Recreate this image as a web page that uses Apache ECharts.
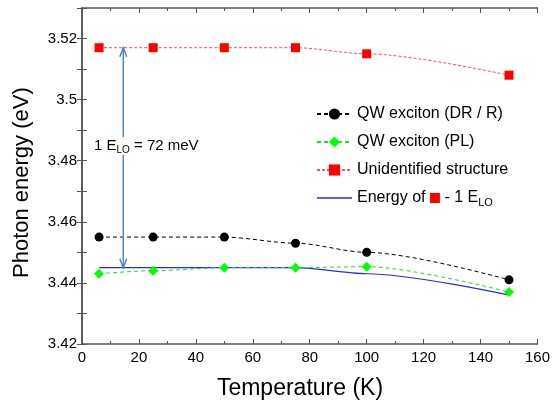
<!DOCTYPE html>
<html>
<head>
<meta charset="utf-8">
<script src="https://cdn.jsdelivr.net/npm/echarts@6/dist/echarts.min.js"></script>
<style>
  html, body { margin: 0; padding: 0; background: #fff; }
  #chart { width: 553px; height: 405px; }
</style>
</head>
<body>
<div id="chart"></div>
<script>
// Temperatures (K) at which the spectra were taken
const temperatures = [6, 25, 50, 75, 100, 150];

// Peak energies (eV)
const qwExcitonDR = [3.455, 3.455, 3.455, 3.453, 3.450, 3.441];
const qwExcitonPL = [3.443, 3.444, 3.445, 3.445, 3.4453, 3.437];
const unidentified = [3.517, 3.517, 3.517, 3.517, 3.515, 3.508];
const unidentifiedMinusLO = [3.445, 3.445, 3.445, 3.445, 3.443, 3.436];

// LO-phonon spacing annotation: temperature of the arrow, its two ends (eV), label anchor
const loArrowT = [14.5];
const loArrowEnds = [3.517, 3.445];
const loLabelAt = [4.2, 3.4848];

const seriesNames = [
  'QW exciton (DR / R)',
  'QW exciton (PL)',
  'Unidentified structure',
  'Energy of - 1 ELO'
];

const FONT = 'Liberation Sans, Arial, sans-serif';
const AXIS_COLOR = '#555';

function pairs(xs, ys) {
  return xs.map((x, i) => [x, ys[i]]);
}

function yLabel(v) {
  const c = Math.round(v * 100);
  if (c % 2 !== 0) return '';
  return String(Number((c / 100).toFixed(2)));
}

const chart = echarts.init(document.getElementById('chart'), null, { renderer: 'canvas' });

const commonAxisLine = { show: true, lineStyle: { color: AXIS_COLOR, width: 1.5 } };

const option = {
  animation: false,
  backgroundColor: '#fff',
  textStyle: { fontFamily: FONT },
  grid: { left: 82, right: 13, top: 8, bottom: 61, containLabel: false },
  xAxis: [
    {
      type: 'value', min: 0, max: 160, interval: 20,
      axisLine: commonAxisLine,
      axisTick: { show: true, inside: true, length: 5, lineStyle: { color: AXIS_COLOR } },
      minorTick: { show: true, splitNumber: 2, length: 3, lineStyle: { color: AXIS_COLOR } },
      axisLabel: { color: '#000', fontSize: 15, fontFamily: FONT, margin: 6 },
      splitLine: { show: false }
    },
    {
      type: 'value', position: 'top', min: 0, max: 160, interval: 20,
      axisLine: commonAxisLine,
      axisTick: { show: true, inside: true, length: 5, lineStyle: { color: AXIS_COLOR } },
      minorTick: { show: true, splitNumber: 2, length: 3, lineStyle: { color: AXIS_COLOR } },
      axisLabel: { show: false },
      splitLine: { show: false }
    }
  ],
  yAxis: [
    {
      type: 'value', min: 3.42, max: 3.53, interval: 0.01,
      axisLine: commonAxisLine,
      axisTick: { show: true, inside: true, length: 5, lineStyle: { color: AXIS_COLOR } },
      axisLabel: { color: '#000', fontSize: 15, fontFamily: FONT, margin: 5, formatter: yLabel },
      splitLine: { show: false }
    },
    {
      type: 'value', position: 'right', min: 3.42, max: 3.53, interval: 0.01,
      axisLine: commonAxisLine,
      axisTick: { show: true, inside: true, length: 5, lineStyle: { color: AXIS_COLOR } },
      axisLabel: { show: false },
      splitLine: { show: false }
    }
  ],
  legend: {
    orient: 'vertical',
    left: 311, top: 99,
    itemWidth: 35, itemHeight: 14, itemGap: 8,
    textStyle: {
      fontFamily: FONT, fontSize: 16, color: '#000', lineHeight: 20,
      rich: {
        t: { fontFamily: FONT, fontSize: 16, color: '#000', lineHeight: 20 },
        sq: { width: 10, height: 10, backgroundColor: '#ff0000', lineHeight: 20 },
        s: { fontFamily: FONT, fontSize: 11, color: '#000', lineHeight: 20, padding: [9, 0, 0, 0] }
      }
    },
    formatter: function (name) {
      if (name === seriesNames[3]) return '{t|Energy of }{sq|}{t| - 1 E}{s|LO}';
      return name;
    },
    data: [
      { name: seriesNames[0] },
      { name: seriesNames[1] },
      { name: seriesNames[2] },
      { name: seriesNames[3], icon: 'path://M0,0 L35,0 L35,1.4 L0,1.4 Z' }
    ]
  },
  graphic: [
    {
      type: 'text', x: 300, y: 389,
      style: { text: 'Temperature (K)', font: '23px ' + FONT, fill: '#000', align: 'center', verticalAlign: 'middle' }
    },
    {
      type: 'text', rotation: Math.PI / 2, x: 11, y: 278,
      style: { text: 'Photon energy (eV)', font: '22px ' + FONT, fill: '#000', textVerticalAlign: 'top' }
    }
  ],
  series: [
    {
      name: seriesNames[3], type: 'line', smooth: 0.3, smoothMonotone: 'x', symbol: 'none',
      data: pairs(temperatures, unidentifiedMinusLO),
      itemStyle: { color: '#2a2ae6' },
      lineStyle: { color: '#2a2ae6', width: 1.2, type: 'solid' },
      z: 2
    },
    {
      name: seriesNames[0], type: 'line', smooth: 0.3, smoothMonotone: 'x', symbol: 'circle', symbolSize: 9,
      data: pairs(temperatures, qwExcitonDR),
      itemStyle: { color: '#000' },
      lineStyle: { color: '#000', width: 1, type: [4, 3] },
      z: 3
    },
    {
      name: seriesNames[1], type: 'line', smooth: 0.3, smoothMonotone: 'x', symbol: 'diamond', symbolSize: 10,
      data: pairs(temperatures, qwExcitonPL),
      itemStyle: { color: '#00ff00' },
      lineStyle: { color: '#22e022', width: 1, type: [4, 3] },
      z: 3
    },
    {
      name: seriesNames[2], type: 'line', smooth: 0.3, smoothMonotone: 'x', symbol: 'rect', symbolSize: 9,
      data: pairs(temperatures, unidentified),
      itemStyle: { color: '#ff0000' },
      lineStyle: { color: '#ff5050', width: 1, type: [3, 2] },
      z: 3
    },
    {
      // LO-phonon spacing: double-headed arrow plus its label
      type: 'custom', silent: true, z: 4,
      data: [[loArrowT[0], loArrowEnds[0], loArrowEnds[1], loLabelAt[0], loLabelAt[1]]],
      renderItem: function (params, api) {
        const top = api.coord([api.value(0), api.value(1)]);
        const bot = api.coord([api.value(0), api.value(2)]);
        const lbl = api.coord([api.value(3), api.value(4)]);
        const col = '#4a7bd4';
        const hw = 3.5, hl = 9;
        const st = { stroke: col, lineWidth: 1.4, fill: null };
        return {
          type: 'group',
          children: [
            { type: 'line', shape: { x1: top[0], y1: top[1], x2: bot[0], y2: bot[1] }, style: st },
            { type: 'polyline', shape: { points: [[top[0] - hw, top[1] + hl], [top[0], top[1]], [top[0] + hw, top[1] + hl]] }, style: st },
            { type: 'polyline', shape: { points: [[bot[0] - hw, bot[1] - hl], [bot[0], bot[1]], [bot[0] + hw, bot[1] - hl]] }, style: st },
            {
              type: 'text', z2: 10,
              style: {
                x: lbl[0], y: lbl[1],
                text: '{a|1 E}{s|LO}{a| = 72 meV}',
                verticalAlign: 'middle', align: 'left',
                backgroundColor: '#fff',
                rich: {
                  a: { fontFamily: FONT, fontSize: 15, fill: '#000', lineHeight: 18 },
                  s: { fontFamily: FONT, fontSize: 10, fill: '#000', lineHeight: 18, padding: [8, 0, 0, 0] }
                }
              }
            }
          ]
        };
      }
    }
  ]
};

chart.setOption(option);
</script>
</body>
</html>
